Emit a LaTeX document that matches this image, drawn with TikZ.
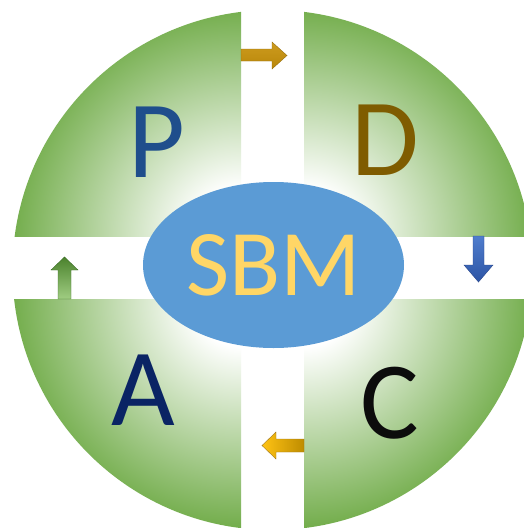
\documentclass[tikz,border=0pt]{standalone}
\usepackage{fontspec}
\setmainfont{Carlito}
\usetikzlibrary{shapes.geometric}
\definecolor{qgreen}{RGB}{106,168,64}
\definecolor{sbmblue}{RGB}{91,155,213}
\definecolor{sbmyellow}{RGB}{255,214,102}
\definecolor{pblue}{RGB}{31,78,140}
\definecolor{dgold}{RGB}{127,92,0}
\definecolor{anavy}{RGB}{10,36,100}
\definecolor{cblack}{RGB}{12,12,12}
\definecolor{goldtop}{RGB}{205,155,30}
\definecolor{goldbot}{RGB}{185,135,10}
\definecolor{goldline}{RGB}{150,110,10}
\definecolor{bluetop}{RGB}{80,125,205}
\definecolor{bluebot}{RGB}{45,85,165}
\definecolor{blueline}{RGB}{40,70,140}
\definecolor{greentop}{RGB}{75,130,45}
\definecolor{greenbot}{RGB}{160,205,130}
\definecolor{greenline}{RGB}{60,110,40}
\definecolor{yelleft}{RGB}{255,195,20}
\definecolor{yelright}{RGB}{190,140,0}
\definecolor{yelline}{RGB}{160,120,30}
\pgfdeclareradialshading{quadshade}{\pgfpoint{0bp}{0bp}}{color(0bp)=(white); color(5bp)=(white); color(25bp)=(qgreen); color(50bp)=(qgreen)}
\tikzset{
  letter/.style={inner sep=0pt, font=\fontsize{110}{110}\selectfont},
  blockarrow/.style={draw=#1, line width=0.4pt, line join=miter},
}
\begin{document}
\begin{tikzpicture}[x=1pt,y=-1pt]
\useasboundingbox (0,0) rectangle (524,528);
\fill[white] (0,0) rectangle (524,528);
\def\cx{272.5}\def\cy{270}
\foreach \xa/\ya/\xb/\yb/\kx/\ky in {0/0/241/236/241/236, 304/0/524/236/304/236, 0/299/241/528/241/299, 304/299/524/528/304/299}{
  \begin{scope}
    \clip (\cx,\cy) circle (260pt);
    \clip (\xa,\ya) rectangle (\xb,\yb);
    \shade[shading=quadshade] (\kx,\ky) circle (240pt);
  \end{scope}
}
% central ellipse
\node[ellipse, fill=sbmblue, minimum width=261pt, minimum height=166pt, inner sep=0pt,
      text=sbmyellow, font=\fontsize{94}{94}\selectfont] (sbm) at (273.5,265) {SBM};
% letters
\node[letter, text=pblue] (P) at (156.5,142) {P};
\node[letter, text=dgold] (D) at (385.5,140) {D};
\node[letter, text=anavy] (A) at (143.5,390.5) {A};
\node[letter, text=cblack] (C) at (390,403) {C};
% arrows
\shade[top color=goldtop, bottom color=goldbot, blockarrow=goldline]
  (241,49) -- (272,49) -- (272,42) -- (287,55.5) -- (272,69) -- (272,61) -- (241,61) -- cycle;
\shade[top color=bluetop, bottom color=bluebot, blockarrow=blueline]
  (473,236) -- (484,236) -- (484,265) -- (493,265) -- (478.5,282) -- (464,265) -- (473,265) -- cycle;
\shade[top color=greentop, bottom color=greenbot, blockarrow=greenline]
  (58,299) -- (71,299) -- (71,270) -- (78,270) -- (64.5,257) -- (51,270) -- (58,270) -- cycle;
\shade[left color=yelleft, right color=yelright, blockarrow=yelline]
  (304,439) -- (276,439) -- (276,432) -- (262,445.5) -- (276,459) -- (276,452) -- (304,452) -- cycle;
\end{tikzpicture}
\end{document}
